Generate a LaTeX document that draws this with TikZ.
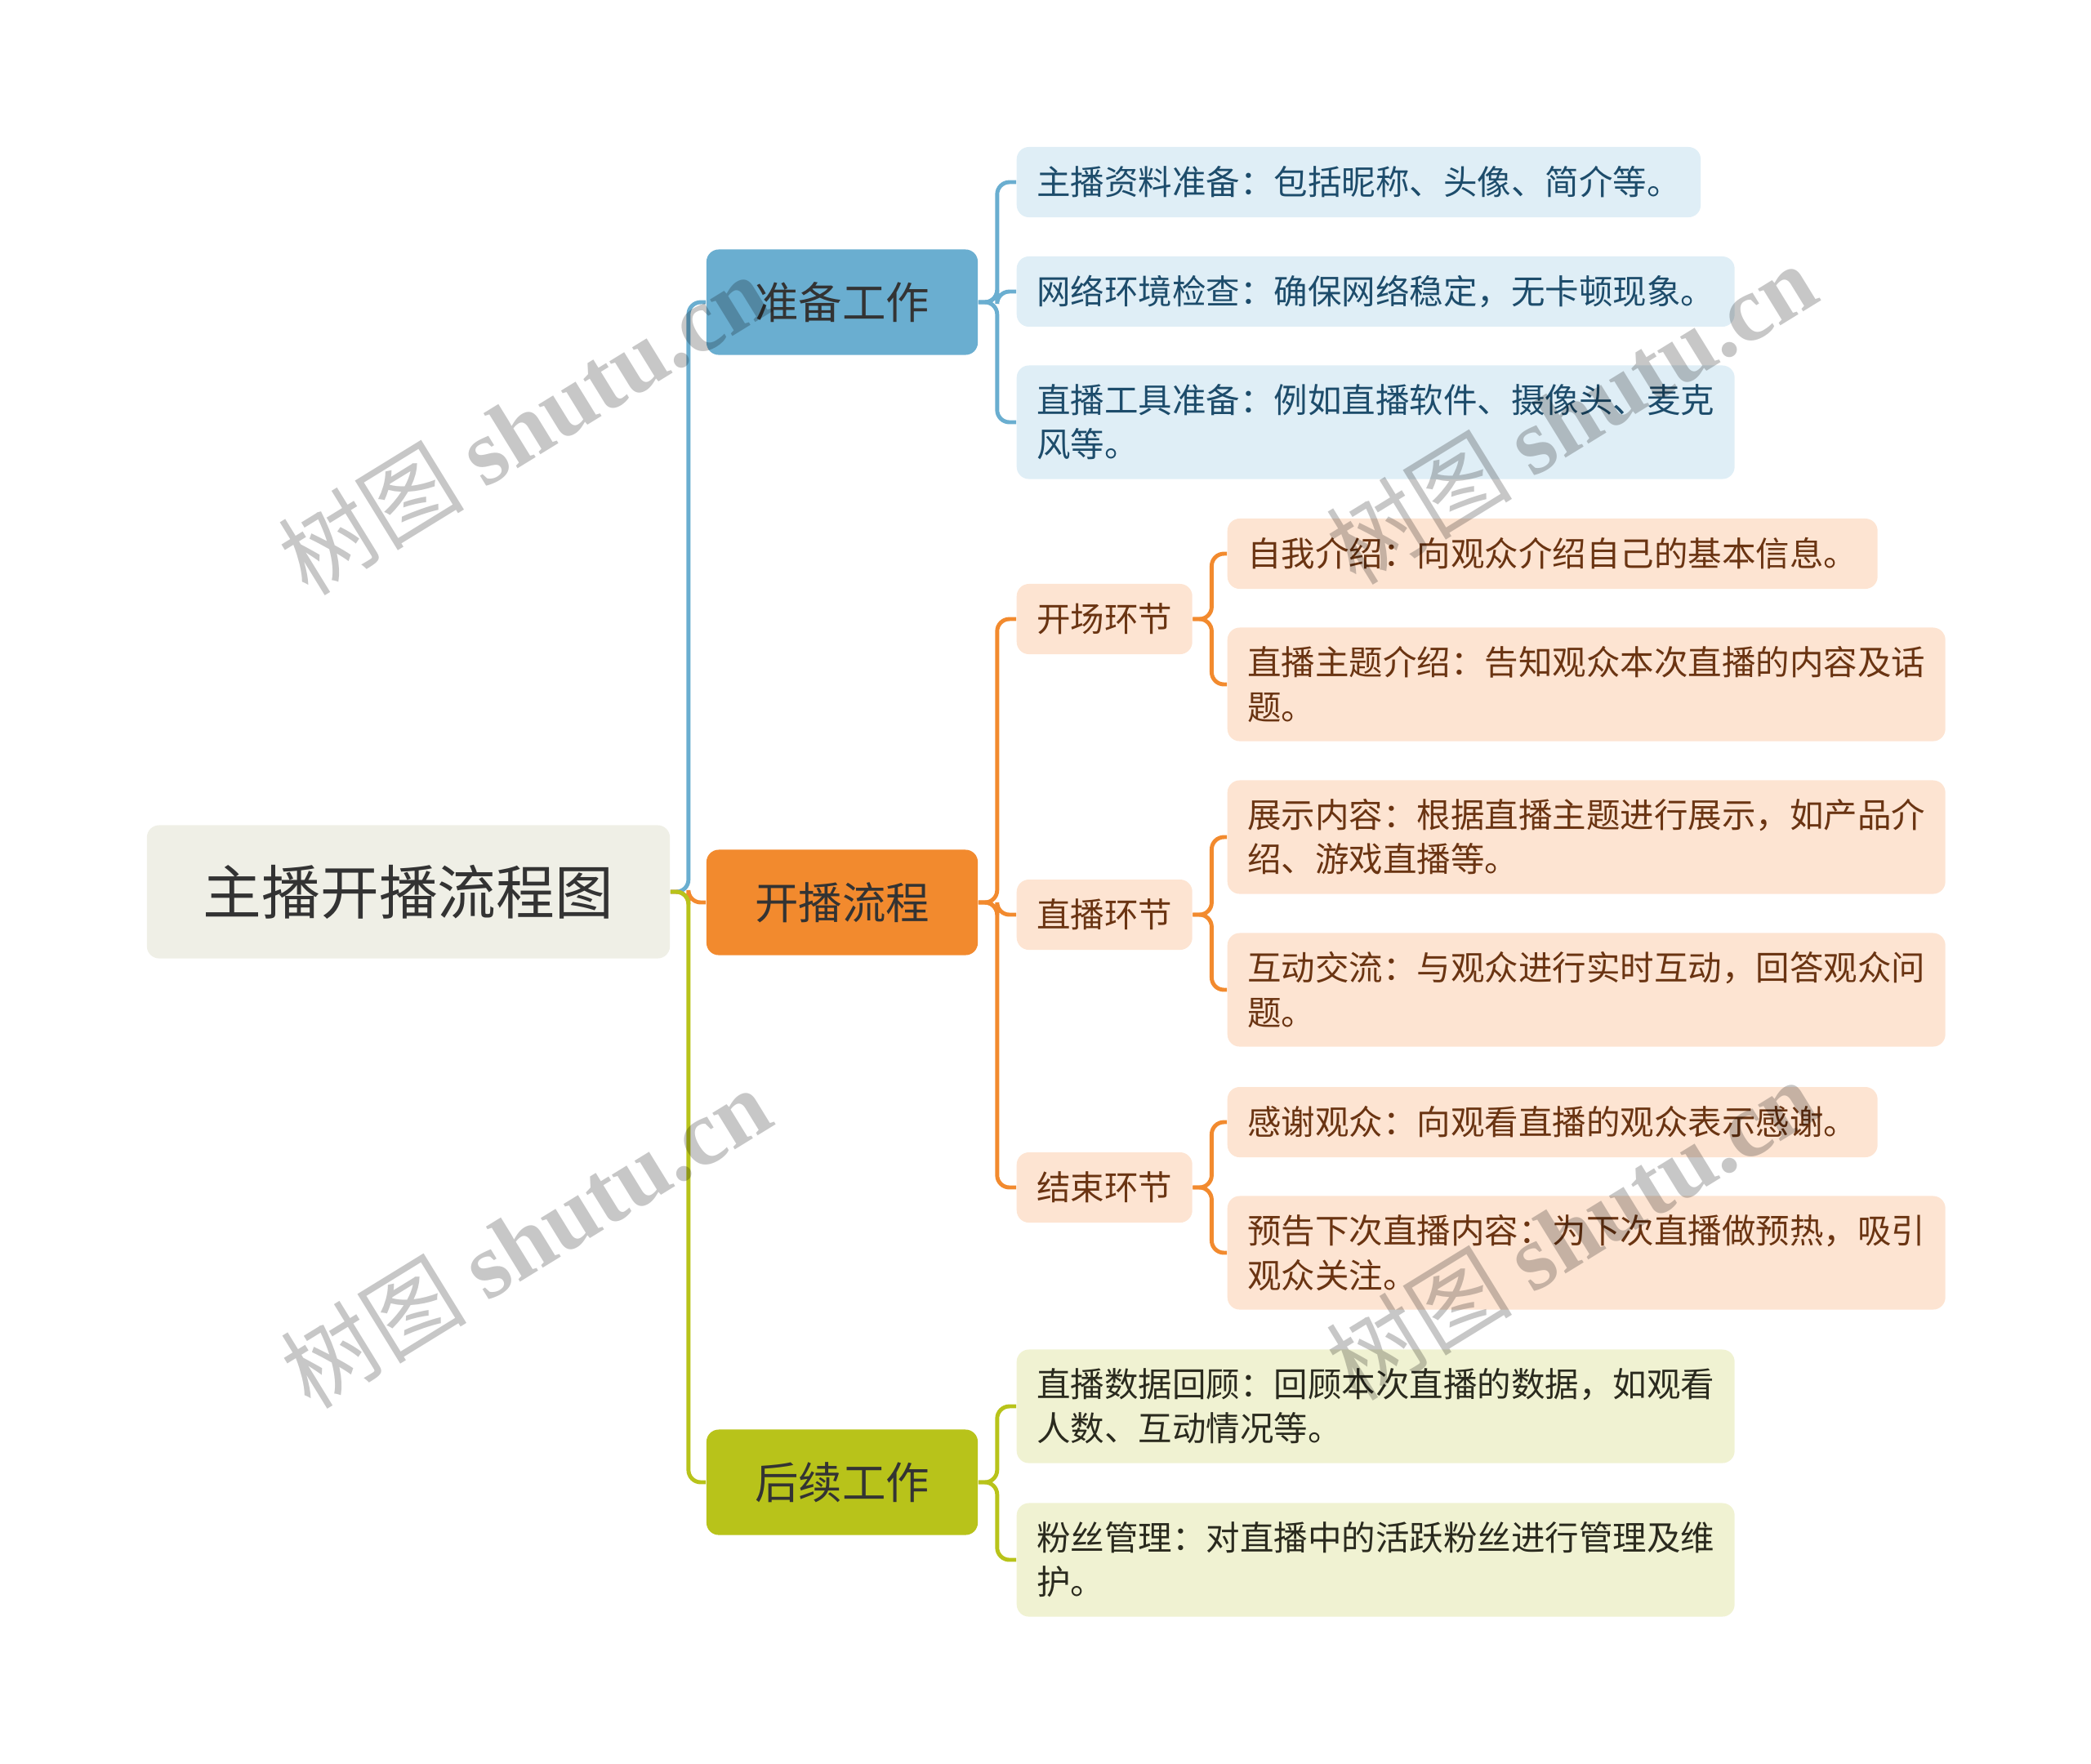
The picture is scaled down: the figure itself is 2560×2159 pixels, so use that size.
\documentclass[tikz,border=0pt]{standalone}
\usepackage{fontspec}
\setmainfont{Noto Sans CJK SC}
\newfontfamily\wmfont{Liberation Serif}
\usepackage{tikz}
\usetikzlibrary{positioning}
\definecolor{rootfill}{HTML}{EFEFE6}
\definecolor{ink}{HTML}{333333}
\definecolor{bluemain}{HTML}{6AAED0}
\definecolor{orangemain}{HTML}{F28A2E}
\definecolor{greenmain}{HTML}{B8C31A}
\definecolor{blueleaf}{HTML}{DFEEF6}
\definecolor{orangeleaf}{HTML}{FDE4D2}
\definecolor{greenleaf}{HTML}{F0F2D2}
\definecolor{blueink}{HTML}{1D4C6B}
\definecolor{orangeink}{HTML}{6A3412}
\definecolor{greenink}{HTML}{2A2A1E}
\tikzset{
  box/.style={rounded corners=0.15cm, inner sep=0pt, align=center},
  rootbox/.style={box, fill=rootfill, text=ink, minimum width=6.4cm, minimum height=1.63cm, font=\fontsize{20.4pt}{24pt}\selectfont},
  mainbox/.style={box, text=ink, minimum width=3.32cm, minimum height=1.29cm, font=\fontsize{15.2pt}{18pt}\selectfont},
  leaf/.style={box, anchor=west, align=left, inner xsep=0.245cm, minimum height=0.86cm, font=\fontsize{11.8pt}{15.4pt}\selectfont},
  two/.style={minimum height=1.39cm},
  bleaf/.style={leaf, fill=blueleaf, text=blueink},
  oleaf/.style={leaf, fill=orangeleaf, text=orangeink},
  gleaf/.style={leaf, fill=greenleaf, text=greenink},
  link/.style={line width=1.4pt, rounded corners=0.15cm},
  wm/.style={rotate=31.6, text=black, text opacity=0.22, font=\fontsize{32.5pt}{32.5pt}\selectfont},
}

\begin{document}
\begin{tikzpicture}[x=0.01cm, y=-0.01cm]
\useasboundingbox (0,0) rectangle (2560,2159);
% root and main branches
\node[rootbox] (root) at (500,1092) {主播开播流程图};
\node[mainbox, fill=bluemain] (prep) at (1031,370) {准备工作};
\node[mainbox, fill=orangemain] (live) at (1031,1105) {开播流程};
\node[mainbox, fill=greenmain] (post) at (1031,1815) {后续工作};
% preparation
\node[bleaf] (p1) at (1244,223) {主播资料准备：包括昵称、头像、简介等。};
\node[bleaf] (p2) at (1244,357) {网络环境检查：确保网络稳定，无卡顿现象。};
\node[bleaf, two] (p3) at (1244,517) {直播工具准备：例如直播软件、摄像头、麦克\\风等。};
% live flow
\node[oleaf] (open) at (1244,758) {开场环节};
\node[oleaf] (show) at (1244,1120) {直播环节};
\node[oleaf] (close) at (1244,1454) {结束环节};
\node[oleaf] (o1) at (1502,678) {自我介绍：向观众介绍自己的基本信息。};
\node[oleaf, two] (o2) at (1502,838) {直播主题介绍：告知观众本次直播的内容及话\\题。};
\node[oleaf, two] (o3) at (1502,1025) {展示内容：根据直播主题进行展示，如产品介\\绍、游戏直播等。};
\node[oleaf, two] (o4) at (1502,1212) {互动交流：与观众进行实时互动，回答观众问\\题。};
\node[oleaf] (o5) at (1502,1374) {感谢观众：向观看直播的观众表示感谢。};
\node[oleaf, two] (o6) at (1502,1534) {预告下次直播内容：为下次直播做预热，吸引\\观众关注。};
% follow-up
\node[gleaf, two] (g1) at (1244,1722) {直播数据回顾：回顾本次直播的数据，如观看\\人数、互动情况等。};
\node[gleaf, two] (g2) at (1244,1910) {粉丝管理：对直播中的活跃粉丝进行管理及维\\护。};
% connectors
\draw[link, bluemain] (root.east) -- ++(22,0) |- (prep.west);
\draw[link, orangemain] (root.east) -- ++(22,0) |- (live.west);
\draw[link, greenmain] (root.east) -- ++(22,0) |- (post.west);
\foreach \n in {p1,p2,p3}
  \draw[link, bluemain] (prep.east) -- ++(23,0) |- (\n.west);
\foreach \n in {open,show,close}
  \draw[link, orangemain] (live.east) -- ++(23,0) |- (\n.west);
\foreach \n in {o1,o2}
  \draw[link, orangemain] (open.east) -- ++(23,0) |- (\n.west);
\foreach \n in {o3,o4}
  \draw[link, orangemain] (show.east) -- ++(23,0) |- (\n.west);
\foreach \n in {o5,o6}
  \draw[link, orangemain] (close.east) -- ++(23,0) |- (\n.west);
\foreach \n in {g1,g2}
  \draw[link, greenmain] (post.east) -- ++(23,0) |- (\n.west);
% watermarks
\foreach \wx/\wy [count=\i] in {640/519, 1923/506, 643/1515, 1923/1505}
  \node[wm] (wm\i) at (\wx,\wy) {树图 {\wmfont\bfseries shutu.cn}};
\end{tikzpicture}
\end{document}
